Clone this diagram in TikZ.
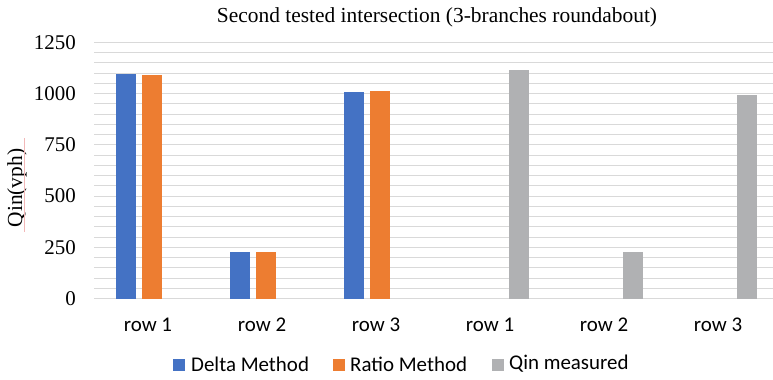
\documentclass[tikz,border=0pt]{standalone}
\usepackage{fontspec}
\setmainfont{Liberation Serif}
\newfontfamily\calibri{Carlito}
\definecolor{cblue}{HTML}{4472C4}
\definecolor{corange}{HTML}{ED7D31}
\definecolor{cgray}{HTML}{B0B1B3}
\definecolor{cgrid}{HTML}{D9D9D9}
\definecolor{cpink}{HTML}{F2B8B8}
\newcommand\drawbar[3]{\fill[#1] ({#2-10},298.5) rectangle ({#2+10},{298.5-#3*0.2048});}
\begin{document}
\begin{tikzpicture}[x=1bp,y=-1bp,
  grid/.style={draw=cgrid,line width=1bp},
  ytick/.style={anchor=east,font=\fontsize{21}{23}\selectfont,inner sep=0pt},
  xtick/.style={anchor=center,font=\calibri\fontsize{21}{23}\selectfont,inner sep=0pt},
  legtext/.style={anchor=west,font=\calibri\fontsize{21}{23}\selectfont,inner sep=0pt},
  legbox/.style={minimum size=12bp,inner sep=0pt,anchor=west}]
\useasboundingbox (0,0) rectangle (773,379);
\fill[white] (0,0) rectangle (773,379);
\foreach \i in {0,...,25} \draw[grid] (94,{298.5-\i*10.24}) -- (773,{298.5-\i*10.24});
\foreach \v/\n in {0/t0,250/t250,500/t500,750/t750,1000/t1000,1250/t1250}
  \node[ytick] (\n) at (76,{298.5-\v*0.2048}) {\v};
\node[font=\fontsize{21.5}{23}\selectfont,inner sep=0pt] (title) at (437,17) {Second tested intersection (3-branches roundabout)};
\node[rotate=90,font=\fontsize{21.5}{23}\selectfont,inner sep=0pt] (ytitle) at (17,188) {Qin(vph)};
\draw[cpink,line width=0.8bp] (24.5,138) -- (24.5,232);
% bars
\drawbar{cblue}{126}{1096}
\drawbar{corange}{152}{1091}
\drawbar{cblue}{240}{227}
\drawbar{corange}{266}{227}
\drawbar{cblue}{354}{1008}
\drawbar{corange}{380}{1013}
\drawbar{cgray}{519}{1116}
\drawbar{cgray}{633}{227}
\drawbar{cgray}{747}{994}
% category labels
\foreach \x/\t/\n in {148/row 1/c1,262/row 2/c2,376/row 3/c3,490/row 1/c4,604/row 2/c5,718/row 3/c6}
  \node[xtick] (\n) at (\x,325) {\t};
% legend
\node[legbox,fill=cblue] (lb1) at (173,365) {};
\node[legtext] (lt1) at (191,364) {Delta Method};
\node[legbox,fill=corange] (lb2) at (333,365) {};
\node[legtext] (lt2) at (350,364) {Ratio Method};
\node[legbox,fill=cgray] (lb3) at (492,365) {};
\node[legtext] (lt3) at (509,364) {Qin measured};
\end{tikzpicture}
\end{document}
